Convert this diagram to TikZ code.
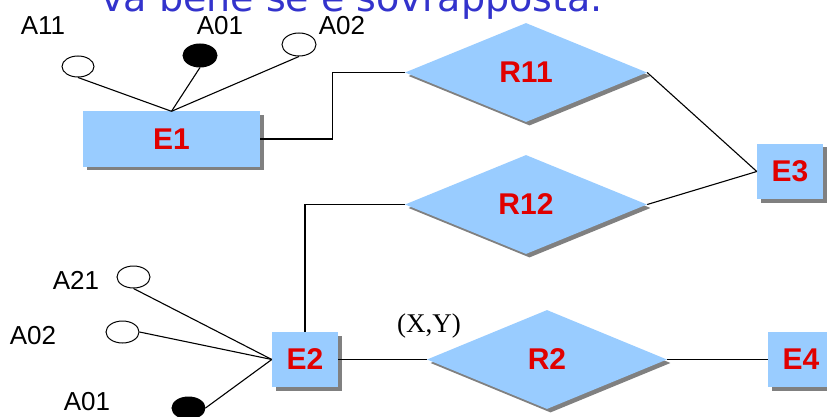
\documentclass[tikz,border=0pt]{standalone}
\usepackage{fontspec}
\setmainfont{Liberation Sans}
\newfontfamily\titlefont{DejaVu Sans}
\newfontfamily\serifx{Liberation Serif}
\usetikzlibrary{shapes.geometric,shadows}
\definecolor{boxblue}{HTML}{99CCFF}
\definecolor{lblred}{HTML}{E00000}
\definecolor{ttlblue}{HTML}{3333CC}
\tikzset{
  shd/.style={drop shadow={fill=black!50,opacity=1,shadow xshift=3.5pt,shadow yshift=-3.5pt}},
  entbox/.style={rectangle,fill=boxblue,shd,inner sep=0pt,minimum height=55pt,
    text=lblred,font=\fontsize{30}{30}\selectfont\bfseries},
  relbox/.style={diamond,fill=boxblue,shd,inner sep=0pt,minimum width=242pt,minimum height=99pt,
    text=lblred,font=\fontsize{30}{30}\selectfont\bfseries},
  attr/.style={ellipse,draw=black,line width=1pt,fill=white,inner sep=0pt,minimum width=33pt,minimum height=22pt},
  attrk/.style={attr,fill=black},
  albl/.style={inner sep=0pt,font=\fontsize{26}{26}\selectfont},
  conn/.style={draw=black,line width=1.1pt},
}
\begin{document}
\begin{tikzpicture}[x=1pt,y=-1pt]
\useasboundingbox (0,0) rectangle (827,417);
\clip (0,0) rectangle (827,417);
% title
\node[anchor=base west,inner sep=0pt,text=ttlblue,font=\titlefont\fontsize{38}{38}\selectfont] (title) at (101,12) {va bene se è sovrapposta.};
% entities
\node[entbox,minimum width=177pt] (E1) at (171.5,139) {E1};
\node[entbox,minimum width=66pt] (E2) at (305,359.5) {E2};
\node[entbox,minimum width=66pt] (E3) at (790,171.5) {E3};
\node[entbox,minimum width=66pt] (E4) at (801,359.5) {E4};
% relationships
\node[relbox] (R11) at (526,72.5) {R11};
\node[relbox] (R12) at (526,204.5) {R12};
\node[relbox,minimum width=240pt] (R2) at (547,359.5) {R2};
% attributes of E1
\node[attr,minimum width=32pt,minimum height=21pt] (a11) at (78,66.5) {};
\node[attrk,minimum width=34pt,minimum height=23pt] (a01) at (200,55.5) {};
\node[attr,minimum width=34pt,minimum height=23pt] (a02) at (299,44.5) {};
\node[albl] (la11) at (43,26) {A11};
\node[albl] (la01) at (220,26) {A01};
\node[albl] (la02) at (342,26) {A02};
% attributes of E2
\node[attr] (b21) at (133.5,277) {};
\node[attr] (b02) at (122.5,332) {};
\node[attrk] (b01) at (188.5,408) {};
\node[albl] (lb21) at (76,280) {A21};
\node[albl] (lb02) at (33,336) {A02};
\node[albl] (lb01) at (87,402) {A01};
% cardinality
\node[inner sep=0pt,font=\serifx\fontsize{27}{27}\selectfont] (xy) at (429,326) {(X,Y)};
% connectors
\draw[conn] (a11.south) -- (E1.north);
\draw[conn] (a01.south) -- (E1.north);
\draw[conn] (a02.south) -- (E1.north);
\draw[conn] (b21.south) -- (E2.west);
\draw[conn] (b02.east) -- (E2.west);
\draw[conn] (b01.east) -- (E2.west);
\draw[conn] (E1.east) -- ++(72,0) |- (R11.west);
\draw[conn] (R12.west) -| (E2.north);
\draw[conn] (R11.east) -- (E3.west);
\draw[conn] (R12.east) -- (E3.west);
\draw[conn] (E2.east) -- (R2.west);
\draw[conn] (R2.east) -- (E4.west);
\end{tikzpicture}
\end{document}
